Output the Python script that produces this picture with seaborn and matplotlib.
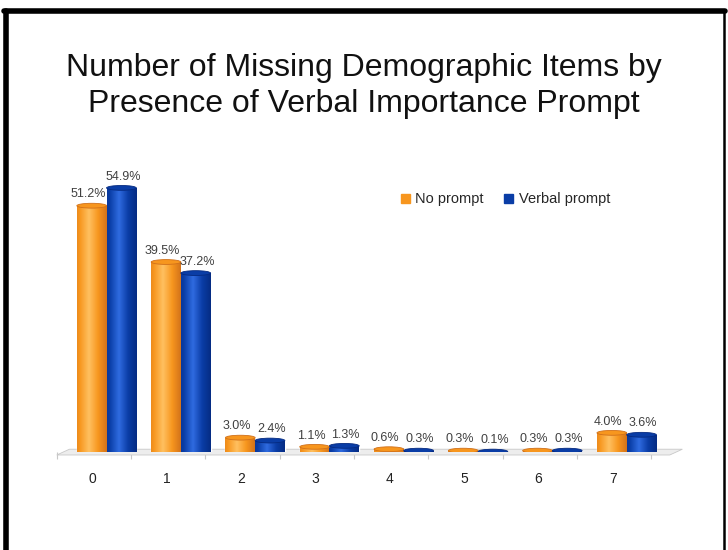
import matplotlib.pyplot as plt
import matplotlib.transforms as mtransforms
from matplotlib.patches import Ellipse, Polygon
from matplotlib.lines import Line2D
import numpy as np
import pandas as pd
import seaborn as sns

# data
items = ['0', '1', '2', '3', '4', '5', '6', '7']
no_prompt = [51.2, 39.5, 3.0, 1.1, 0.6, 0.3, 0.3, 4.0]
verbal_prompt = [54.9, 37.2, 2.4, 1.3, 0.3, 0.1, 0.3, 3.6]
groups = ['No prompt', 'Verbal prompt']

df = pd.DataFrame({
    'items': items * 2,
    'pct': no_prompt + verbal_prompt,
    'group': [groups[0]] * len(items) + [groups[1]] * len(items),
})

sns.set_style('white')
plt.rcParams['font.family'] = ['Liberation Sans', 'DejaVu Sans']

colors = {'No prompt': '#F7961E', 'Verbal prompt': '#0A3DA6'}
light = {'No prompt': '#FFC060', 'Verbal prompt': '#2F6BE0'}
dark = {'No prompt': '#D0701A', 'Verbal prompt': '#052A80'}

fig = plt.figure(figsize=(7.28, 5.5), dpi=100)
ax = fig.add_axes([0.078, 0.178, 0.842, 0.525])

sns.barplot(data=df, x='items', y='pct', hue='group', palette=colors,
            width=0.8, saturation=1, ax=ax, legend=False)

# cylinder-ish shading on each bar
grad = np.linspace(0, 1, 64)
grad = 1 - np.abs(grad - 0.4) * 1.6
grad = np.clip(grad, 0, 1)[None, :]
bars = [p for p in ax.patches]
for i, p in enumerate(bars):
    g = groups[i // len(items)]
    x0, w, h = p.get_x(), p.get_width(), p.get_height()
    cmap = sns.blend_palette([dark[g], colors[g], light[g]], as_cmap=True)
    im = ax.imshow(grad, extent=[x0, x0 + w, 0, h], aspect='auto',
                   cmap=cmap, vmin=0, vmax=1, zorder=3)
    im.set_clip_path(p)
    p.set_zorder(2)
    cap = Ellipse((x0 + w / 2, h), w, 1.0, facecolor=colors[g],
                  edgecolor=dark[g], lw=0.6, zorder=4)
    ax.add_patch(cap)
    shift = -0.05 if g == groups[0] else 0.02
    ax.text(x0 + w / 2 + shift, h + 1.1, f'{h:.1f}%', ha='center', va='bottom',
            fontsize=9, color='#404040', zorder=5)

ax.set_xlim(-0.67, 7.58)
ax.set_ylim(0, 60)

# light floor
floor = Polygon([[-0.67, -0.6], [7.58, -0.6], [7.75, 0.6], [-0.5, 0.6]],
                closed=True, facecolor='#EDEDED', edgecolor='#C8C8C8',
                lw=0.6, zorder=1, clip_on=False)
ax.add_patch(floor)

sns.despine(ax=ax, left=True, bottom=True, top=True, right=True)
ax.set_yticks([])
ax.set_xlabel('')
ax.set_ylabel('')
ax.set_xticks(range(len(items)))
ax.set_xticklabels(items, fontsize=10, color='#222222')
ax.tick_params(axis='x', length=0, pad=14)
offset = mtransforms.ScaledTranslation(-10 / 72, 0, fig.dpi_scale_trans)
for lab in ax.get_xticklabels():
    lab.set_transform(lab.get_transform() + offset)
ax.set_xticks(np.arange(-0.5, len(items) + 0.5, 1) - 0.17, minor=True)
ax.tick_params(axis='x', which='minor', length=5, color='#C8C8C8', width=0.8,
               bottom=True)

# legend
handles = [plt.Rectangle((0, 0), 1, 1, color=colors[g]) for g in groups]
ax.legend(handles, groups, loc='upper left', bbox_to_anchor=(0.54, 0.945),
          ncol=2, frameon=False, fontsize=10.5, handlelength=0.6,
          handleheight=0.6, handletextpad=0.4, columnspacing=1.4)

fig.text(0.5, 0.844, 'Number of Missing Demographic Items by\n'
         'Presence of Verbal Importance Prompt',
         ha='center', va='center', fontsize=23, color='#111111',
         linespacing=1.28)

# black frame around the slide
fig.add_artist(Line2D([5.5 / 728, 5.5 / 728], [0, 1 - 11 / 550],
                      color='black', lw=4, transform=fig.transFigure))
fig.add_artist(Line2D([3.5 / 728, 725 / 728], [1 - 11 / 550, 1 - 11 / 550],
                      color='black', lw=4, transform=fig.transFigure))
fig.add_artist(Line2D([724 / 728, 724 / 728], [0, 1 - 11 / 550],
                      color='black', lw=1.8, transform=fig.transFigure))

fig.savefig('out.png', dpi=100)
